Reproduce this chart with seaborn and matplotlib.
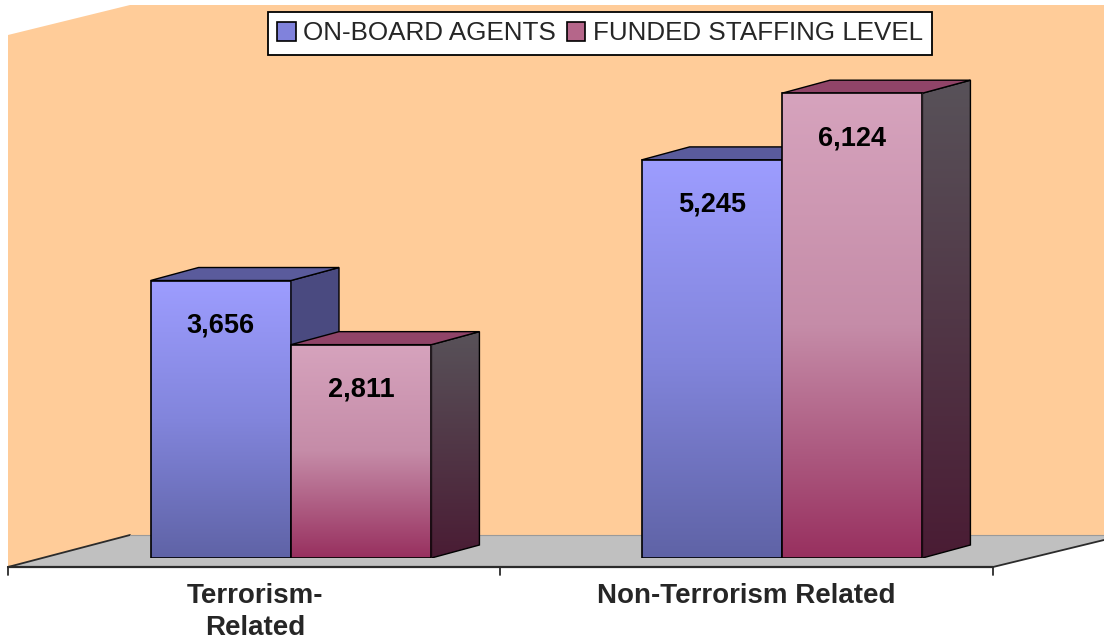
import numpy as np
import pandas as pd
import matplotlib
matplotlib.use("Agg")
import matplotlib.pyplot as plt
import seaborn as sns
from matplotlib.patches import Polygon, Patch
from matplotlib.colors import to_rgb

# ---------------- data ----------------
categories = ["Terrorism-\nRelated", "Non-Terrorism Related"]
series = ["ON-BOARD AGENTS", "FUNDED STAFFING LEVEL"]
onboard_agents = [3656, 5245]
funded_staffing = [2811, 6124]

df = pd.DataFrame({
    "category": categories * 2,
    "series": [series[0]] * len(categories) + [series[1]] * len(categories),
    "value": onboard_agents + funded_staffing,
})

# ---------------- style ----------------
sns.set_theme(style="white")
plt.rcParams["font.family"] = ["Liberation Sans", "DejaVu Sans"]

W, H = 1104, 641
fig = plt.figure(figsize=(W / 100, H / 100), dpi=100)
fig.patch.set_facecolor("white")

# background "3D" wall and floor (pixel coordinates)
bg = fig.add_axes([0, 0, 1, 1], zorder=0)
bg.set_xlim(0, W)
bg.set_ylim(H, 0)
bg.axis("off")
bg.add_patch(Polygon([(8, 567), (8, 35), (130, 5), (W, 5), (W, 535), (130, 535)],
                     closed=True, fc="#FFCC99", ec="none"))
bg.add_patch(Polygon([(8, 567), (130, 535), (W, 535), (W, 540), (993, 567)],
                     closed=True, fc="#C0C0C0", ec="none"))
edge = "#2b2b2b"
bg.plot([8, 130], [567, 535], color=edge, lw=1.3)
bg.plot([8, 993], [567, 567], color=edge, lw=1.6)
bg.plot([993, W], [567, 540], color=edge, lw=1.3)
bg.plot([130, W], [535, 535], color="#9a9a9a", lw=0.8)
for tx in (8, 500, 993):
    bg.plot([tx, tx], [567, 575], color=edge, lw=1.3)

# main axes: front plane of the bars
ax_left, ax_bottom_px, ax_w, ymax = 45.5, 558, 982, 7000
px_per_unit = 0.0759
ax_h = ymax * px_per_unit
ax = fig.add_axes([ax_left / W, (H - ax_bottom_px) / H, ax_w / W, ax_h / H], zorder=1)
ax.patch.set_alpha(0)

sns.barplot(data=df, x="category", y="value", hue="series", order=categories,
            hue_order=series, width=0.572, palette=["#7f80d6", "#b8708f"],
            saturation=1, edgecolor="black", linewidth=1.2, legend=False, ax=ax)

ax.set_xlim(-0.5, 1.5)
ax.set_ylim(0, ymax)

dx = 48 / (ax_w / 2.0)
dy = 13 / px_per_unit


def grad(stops, n=256):
    pos = np.linspace(0, 1, len(stops))
    cols = np.array([to_rgb(c) for c in stops])
    t = np.linspace(0, 1, n)
    arr = np.stack([np.interp(t, pos, cols[:, k]) for k in range(3)], axis=-1)
    return arr[:, None, :]


front_stops = [["#9d9dff", "#8285dc", "#5f63a6"], ["#d6a3bd", "#c58ca8", "#98305f"]]
side_stops = [["#4a4a80", "#4b4b83"], ["#585259", "#4a1c34"]]
top_cols = ["#5a5b9c", "#904468"]

for i, cont in enumerate(ax.containers):
    z = 2 + i
    for p in cont.patches:
        x0, w, h = p.get_x(), p.get_width(), p.get_height()
        x1 = x0 + w
        # side face
        side = Polygon([(x1, 0), (x1 + dx, dy), (x1 + dx, h + dy), (x1, h)],
                       closed=True, fc="none", ec="black", lw=1.0, zorder=z + 0.05)
        ax.add_patch(side)
        sim = ax.imshow(grad(side_stops[i]), extent=(x1, x1 + dx, 0, h + dy),
                        aspect="auto", zorder=z, interpolation="bilinear")
        sim.set_clip_path(side)
        # top face
        top = Polygon([(x0, h), (x0 + dx, h + dy), (x1 + dx, h + dy), (x1, h)],
                      closed=True, fc=top_cols[i], ec="black", lw=1.0, zorder=z + 0.06)
        ax.add_patch(top)
        # front face gradient
        fim = ax.imshow(grad(front_stops[i]), extent=(x0, x1, 0, h), aspect="auto",
                        zorder=z + 0.2, interpolation="bilinear")
        fim.set_clip_path(p)
        p.set_facecolor("none")
        p.set_zorder(z + 0.3)
        # value label
        ax.text(x0 + w / 2, h - 45 / px_per_unit, f"{int(h):,}", ha="center", va="center",
                fontsize=19.5, fontweight="bold", color="black", zorder=6)

ax.set_xlim(-0.5, 1.5)
ax.set_ylim(0, ymax)
ax.set_xticks([])
ax.set_yticks([])
ax.set_xlabel("")
ax.set_ylabel("")
for s in ax.spines.values():
    s.set_visible(False)

# category labels on the front edge of the floor
for i, cat in enumerate(categories):
    ax.annotate(cat, xy=(i, 0), xycoords=("data", "axes fraction"),
                xytext=(-36 * 0.72, -25 * 0.72), textcoords="offset points",
                ha="center", va="top", fontsize=20, fontweight="bold",
                linespacing=1.32, annotation_clip=False)

handles = [Patch(fc="#8082dc", ec="black", lw=1.2), Patch(fc="#b5668a", ec="black", lw=1.2)]
leg = fig.legend(handles, series, loc="center", bbox_to_anchor=(600 / W, 1 - 33.5 / H),
                 bbox_transform=fig.transFigure, ncol=2, frameon=True, fancybox=False,
                 edgecolor="black", framealpha=1, fontsize=18.7, handlelength=0.7,
                 handleheight=0.7, handletextpad=0.3, columnspacing=0.4, borderpad=0.35)
leg.get_frame().set_linewidth(1.3)
leg.set_zorder(10)

fig.savefig("out.png", dpi=100, facecolor="white")
